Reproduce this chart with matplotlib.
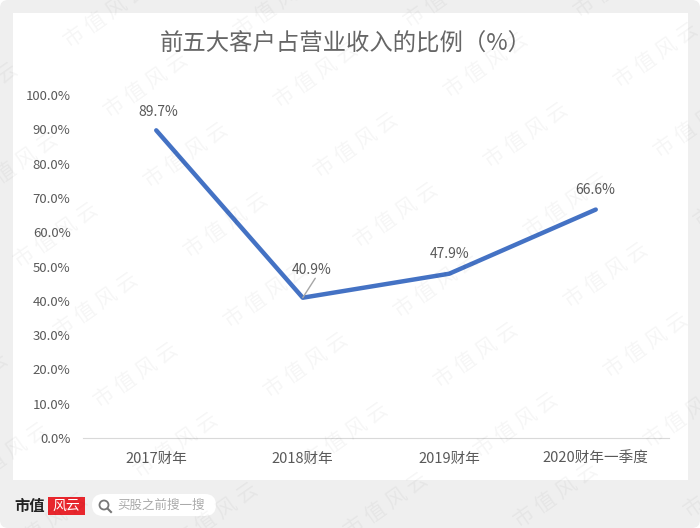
import matplotlib
matplotlib.use("Agg")
import matplotlib.pyplot as plt
from matplotlib.patches import Rectangle, FancyBboxPatch, Circle
from matplotlib.lines import Line2D

plt.rcParams['font.family'] = ['Noto Sans CJK SC', 'DejaVu Sans']

categories = ["2017财年", "2018财年", "2019财年", "2020财年一季度"]
values = [89.7, 40.9, 47.9, 66.6]
value_labels = ["89.7%", "40.9%", "47.9%", "66.6%"]
y_ticks = [0, 10, 20, 30, 40, 50, 60, 70, 80, 90, 100]
title = "前五大客户占营业收入的比例（%）"
W, H = 700, 528

fig = plt.figure(figsize=(7, 5.28), dpi=100, facecolor="white")

# page layer in pixel coordinates, y pointing down
bg = fig.add_axes([0, 0, 1, 1], zorder=0)
bg.set_xlim(0, W)
bg.set_ylim(H, 0)
bg.axis("off")
bg.add_patch(FancyBboxPatch((3, 3), W - 6, H - 6, boxstyle="round,pad=3,rounding_size=8",
                            fc="#efefef", ec="none"))
bg.add_patch(Rectangle((13, 13), 675, 467, fc="white", ec="none"))

# chart
ax = fig.add_axes([83 / W, 1 - 438 / H, 586 / W, 343 / H], zorder=1)
ax.patch.set_alpha(0)
x = list(range(len(categories)))
ax.plot(x, values, color="#4472c4", lw=3.2, solid_capstyle="round", solid_joinstyle="round")
ax.set_xlim(-0.5, 3.5)
ax.set_ylim(0, 100)
ax.set_xticks(x, categories)
ax.set_yticks(y_ticks, [f"{t:.1f}%" for t in y_ticks])
ax.tick_params(length=0, labelcolor="#595959")
ax.tick_params(axis="x", pad=10, labelsize=10.5)
ax.tick_params(axis="y", pad=9, labelsize=9.5)
for s in ["top", "right", "left"]:
    ax.spines[s].set_visible(False)
ax.spines["bottom"].set_color("#d9d9d9")

offsets = [(-13, 8), (-8, 15), (-14, 9), (-15, 9)]
for i, v in enumerate(values):
    ax.annotate(value_labels[i], (i, v), xytext=offsets[i], textcoords="offset points",
                ha="left", va="bottom", fontsize=10, color="#595959")
# leader line of the 2018 label
ax.annotate("", (1, values[1]), xytext=(9, 14), textcoords="offset points",
            arrowprops=dict(arrowstyle="-", color="#a6a6a6", lw=1, shrinkA=0, shrinkB=0))

bg.text(346, 44, title, ha="center", va="center", fontsize=16.8, color="#666666")

# watermark over everything
wm = fig.add_axes([0, 0, 1, 1], zorder=2)
wm.set_xlim(0, W)
wm.set_ylim(H, 0)
wm.axis("off")
for i in range(-3, 7):
    for j in range(-1, 8):
        cx = 356 + 170 * (i - 1) + 40 * (j - 1) + 170
        cy = 145 - 10 * (i - 1) + 70 * (j - 1) - 10
        if -40 < cx < W + 40 and -30 < cy < H + 30:
            wm.text(cx, cy, "市 值 风 云", ha="center", va="center", rotation=35, fontsize=15,
                    color="#000000", alpha=0.04, clip_on=True)

# footer logo and search box
wm.text(30, 506, "市值", ha="center", va="center", fontsize=11, fontweight="bold", color="#222222")
wm.add_patch(Rectangle((48, 497), 37, 18, fc="#e8262d", ec="none"))
wm.text(66.5, 505.5, "风云", ha="center", va="center", fontsize=10, style="italic", color="white")
wm.add_patch(FancyBboxPatch((92, 494), 124, 22, boxstyle="round,pad=0,rounding_size=11", fc="white", ec="none"))
wm.add_patch(Circle((104, 505), 4.5, fc="none", ec="#777777", lw=1.3))
wm.add_line(Line2D([107.5, 111], [508.5, 512], color="#777777", lw=1.5))
wm.text(117, 505.5, "买股之前搜一搜", ha="left", va="center", fontsize=9, color="#aaaaaa")

fig.savefig("out.png", dpi=100)
